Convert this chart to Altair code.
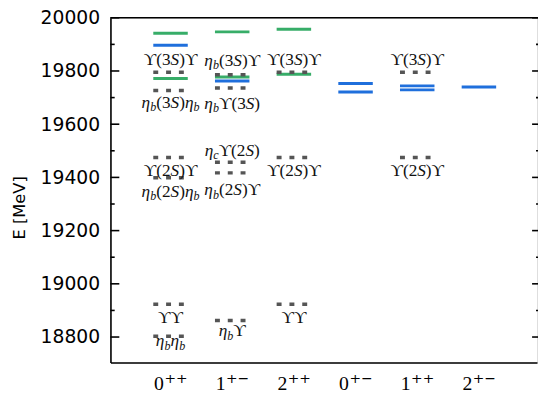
import altair as alt
import pandas as pd

# ---------------- data ----------------
cat_digit = ["0", "1", "2", "0", "1", "2"]
cat_sup = ["++", "+−", "++", "+−", "++", "+−"]
cat_pos = [1, 2, 3, 4, 5, 6]

blue_col = [1, 2, 4, 4, 5, 5, 6]
blue_E = [19897, 19762, 19753, 19721, 19744, 19729, 19740]

green_col = [1, 1, 2, 2, 3, 3]
green_E = [19942, 19772, 19947, 19777, 19957, 19788]

thr_col = [1, 1, 1, 1, 1, 1, 2, 2, 2, 2, 2, 3, 3, 3, 5, 5]
thr_E = [19795, 19727, 19475, 19399, 18923, 18803,
         19786, 19736, 19457, 19417, 18862,
         19795, 19475, 18923,
         19795, 19475]

label_col = [1, 1, 1, 1, 1, 1, 2, 2, 2, 2, 2, 3, 3, 3, 5, 5]
label_E = [19823, 19661, 19407, 19327, 18852, 18766,
           19819, 19658, 19481, 19333, 18803,
           19823, 19407, 18852,
           19821, 19407]
label_txt = ["ϒ(3S)ϒ", "η_b(3S)η_b", "ϒ(2S)ϒ", "η_b(2S)η_b", "ϒϒ", "η_bη_b",
             "η_b(3S)ϒ", "η_bϒ(3S)", "η_cϒ(2S)", "η_b(2S)ϒ", "η_bϒ",
             "ϒ(3S)ϒ", "ϒ(2S)ϒ", "ϒϒ",
             "ϒ(3S)ϒ", "ϒ(2S)ϒ"]

y_title = "E [MeV]"
y_major = [18800, 19000, 19200, 19400, 19600, 19800, 20000]
y_minor = [18900, 19100, 19300, 19500, 19700, 19900]

# ---------------- layout ----------------
W, H = 433, 350
X0, X1 = 0.026, 6.942
Y0, Y1 = 18704, 20000
PXU = W / (X1 - X0)
HW = 17.5 / PXU  # half width of a level segment

xs = alt.Scale(domain=[X0, X1], nice=False, zero=False)
ys = alt.Scale(domain=[Y0, Y1], nice=False, zero=False)

xaxis = alt.Axis(values=cat_pos, labels=False, title=None, ticks=False,
                 grid=False, domainColor="black", domainWidth=1.6)
yaxis = alt.Axis(values=y_major, format="d", title=None, ticks=False, grid=False,
                 domainColor="black", domainWidth=1.6,
                 labelFont="DejaVu Sans", labelFontSize=19, labelColor="black",
                 labelPadding=11)

X = alt.X("x:Q", scale=xs, axis=xaxis)
Y = alt.Y("E:Q", scale=ys, axis=yaxis)


def seg_df(cols, Es):
    return pd.DataFrame({"x": [c - HW for c in cols], "x2": [c + HW for c in cols], "E": Es})


blue = alt.Chart(seg_df(blue_col, blue_E)).mark_rule(color="#1f6fdc", strokeWidth=3).encode(
    x=X, x2="x2:Q", y=Y)
green = alt.Chart(seg_df(green_col, green_E)).mark_rule(color="#37ad68", strokeWidth=3).encode(
    x=X, x2="x2:Q", y=Y)
thr = alt.Chart(seg_df(thr_col, thr_E)).mark_rule(color="#555555", strokeWidth=3.5,
                                                    strokeDash=[5, 8]).encode(
    x=X, x2="x2:Q", y=Y)

# ---------------- labels as styled runs ----------------
FS = 17.5
SUBF = 0.7
roman_w = {"ϒ": 0.72, "(": 0.333, ")": 0.333, "2": 0.5, "3": 0.5}
ital_w = {"S": 0.5, "η": 0.5, "b": 0.5, "c": 0.444}
FONT = "Liberation Serif, DejaVu Serif"


def parse(s):
    out = []
    i = 0
    while i < len(s):
        ch = s[i]
        if ch == "_":
            out.append(["sub", s[i + 1]])
            i += 2
            continue
        st = "it" if ch in ital_w else "rm"
        if out and out[-1][0] == st:
            out[-1][1] += ch
        else:
            out.append([st, ch])
        i += 1
    return out


def run_w(st, txt):
    if st == "rm":
        return sum(roman_w.get(c, 0.5) for c in txt) * FS
    if st == "it":
        return sum(ital_w.get(c, 0.5) for c in txt) * FS
    return sum(ital_w.get(c, 0.5) for c in txt) * FS * SUBF


rows = []
for c, e, s in zip(label_col, label_E, label_txt):
    rs = parse(s)
    total = sum(run_w(st, t) for st, t in rs)
    off = -total / 2
    for st, t in rs:
        rows.append({"x": c + off / PXU, "E": e, "t": t, "st": st})
        off += run_w(st, t)
runs_df = pd.DataFrame(rows)

txt_rm = alt.Chart(runs_df).transform_filter(alt.datum.st == "rm").mark_text(
    align="left", baseline="alphabetic", font=FONT, fontSize=FS,
    color="#111111").encode(x=X, y=Y, text="t:N")
txt_it = alt.Chart(runs_df).transform_filter(alt.datum.st == "it").mark_text(
    align="left", baseline="alphabetic", font=FONT, fontSize=FS,
    fontStyle="italic", color="#111111").encode(x=X, y=Y, text="t:N")
txt_sub = alt.Chart(runs_df).transform_filter(alt.datum.st == "sub").mark_text(
    align="left", baseline="alphabetic", font=FONT, fontSize=FS * SUBF,
    fontStyle="italic", dy=3.5, color="#111111").encode(x=X, y=Y, text="t:N")

# ---------------- x tick labels J^{PC} (digit + superscript) ----------------
DFS, SFS = 20, 14
dig_w = 0.5 * DFS
sup_w = 2 * 0.838 * SFS
tot = dig_w + sup_w
xl_df = pd.DataFrame({
    "x": [p - tot / 2 / PXU for p in cat_pos],
    "xs": [p + (dig_w - tot / 2 + 0.5) / PXU for p in cat_pos],
    "d": cat_digit, "s": cat_sup,
})
xl_dig = alt.Chart(xl_df).mark_text(
    align="left", baseline="alphabetic", font="Liberation Serif", fontSize=DFS,
    color="black").encode(x=X, y=alt.value(H + 28), text="d:N")
xl_sup = alt.Chart(xl_df).mark_text(
    align="left", baseline="alphabetic", font="DejaVu Serif", fontSize=SFS,
    color="black").encode(x=alt.X("xs:Q", scale=xs, axis=xaxis), y=alt.value(H + 21), text="s:N")

# ---------------- y title ----------------
yt = alt.Chart(pd.DataFrame({"t": [y_title]})).mark_text(
    angle=270, align="center", baseline="middle", font="DejaVu Sans", fontSize=16.5,
    color="black").encode(x=alt.value(-92), y=alt.value(193), text="t:N")

# ---------------- frame ticks ----------------
maj_df = pd.DataFrame({"E": y_major})
min_df = pd.DataFrame({"E": y_minor})
tk = dict(color="black", strokeWidth=1.6)
lt_maj = alt.Chart(maj_df).mark_rule(**tk).encode(x=alt.value(0), x2=alt.value(9), y=Y)
lt_min = alt.Chart(min_df).mark_rule(**tk).encode(x=alt.value(0), x2=alt.value(4.3), y=Y)
rt_maj = alt.Chart(maj_df).mark_rule(**tk).encode(x=alt.value(W - 5), x2=alt.value(W + 1), y=Y)
rt_min = alt.Chart(min_df).mark_rule(**tk).encode(x=alt.value(W - 1), x2=alt.value(W + 1), y=Y)
top = alt.Chart(maj_df.head(1)).mark_rule(color="black", strokeWidth=1.6).encode(
    y=alt.value(0), x=alt.value(0), x2=alt.value(W + 1))

chart = alt.layer(
    blue, green, thr, txt_rm, txt_it, txt_sub, xl_dig, xl_sup, yt,
    lt_maj, lt_min, rt_maj, rt_min, top
).properties(
    width=W, height=H,
    autosize=alt.AutoSizeParams(type="none"),
    padding={"left": 104, "top": 7, "right": 1, "bottom": 30},
).configure_view(stroke=None).configure(background="white")

chart.save("out.html", embed_options={"renderer": "svg", "actions": False})
